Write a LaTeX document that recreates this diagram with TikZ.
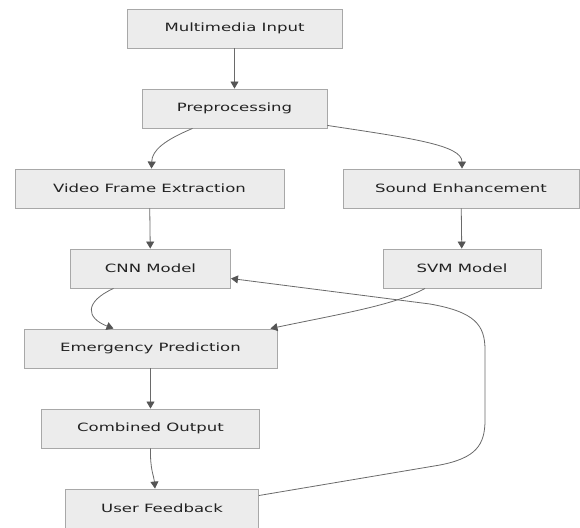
\documentclass[tikz,border=0pt]{standalone}
\usepackage{fontspec}
\setmainfont{DejaVu Sans}[FakeStretch=1.45]
\usetikzlibrary{arrows.meta}
\definecolor{boxfill}{HTML}{ECECEC}
\definecolor{boxline}{HTML}{A8A8A8}
\definecolor{linkcol}{HTML}{6A6A6A}
\definecolor{tipcol}{HTML}{555555}
\definecolor{txtcol}{HTML}{222222}
\tikzset{
  stepbox/.style={draw=boxline, fill=boxfill, line width=0.9pt, minimum height=39pt,
    inner sep=0pt, text=txtcol, font=\fontsize{11.4}{13}\selectfont},
  link/.style={draw=linkcol, line width=0.8pt,
    -{Triangle[length=7pt,width=8pt,color=tipcol]}},
}
\begin{document}
\begin{tikzpicture}[x=1pt,y=-1pt]
\useasboundingbox (0,0) rectangle (580,527);
% processing stages
\node[stepbox, minimum width=215pt] (mi)  at (234.5,28.5)  {Multimedia Input};
\node[stepbox, minimum width=185pt] (pp)  at (234.5,108.5) {Preprocessing};
\node[stepbox, minimum width=269pt] (vfe) at (149.5,188.5) {Video Frame Extraction};
\node[stepbox, minimum width=236pt] (se)  at (461,188.5)   {Sound Enhancement};
\node[stepbox, minimum width=160pt] (cnn) at (150.5,268.5) {CNN Model};
\node[stepbox, minimum width=158pt] (svm) at (462,268.5)   {SVM Model};
\node[stepbox, minimum width=253pt] (ep)  at (150.5,348.5) {Emergency Prediction};
\node[stepbox, minimum width=218pt] (co)  at (150.5,428.5) {Combined Output};
\node[stepbox, minimum width=193pt] (uf)  at (162,508.5)   {User Feedback};
% connectors
\draw[link] (mi) -- (pp);
\draw[link] ([xshift=-42pt]pp.south) .. controls (165,140) and (152,150) .. ([xshift=2pt]vfe.north);
\draw[link] ([yshift=3pt]pp.south east) .. controls (410,138) and (462,145) .. ([xshift=1pt]se.north);
\draw[link] (vfe) -- (cnn);
\draw[link] (se) -- (svm);
\draw[link] ([xshift=-37pt]cnn.south) .. controls (84,302) and (86,318) .. ([xshift=-37pt]ep.north);
\draw[link] ([xshift=-37pt]svm.south) .. controls (395,305) and (340,314) .. ([xshift=-7pt]ep.north east);
\draw[link] (ep) -- (co);
\draw[link] (co.south) .. controls (150,470) and (154,476) .. ([xshift=-7pt]uf.north);
\draw[link] ([yshift=13pt]uf.east) -- (440,465)
  .. controls (476,458) and (485,445) .. (485,420) -- (485,350)
  .. controls (485,325) and (475,312) .. (430,304) -- ([yshift=-10pt]cnn.east);
\end{tikzpicture}
\end{document}
